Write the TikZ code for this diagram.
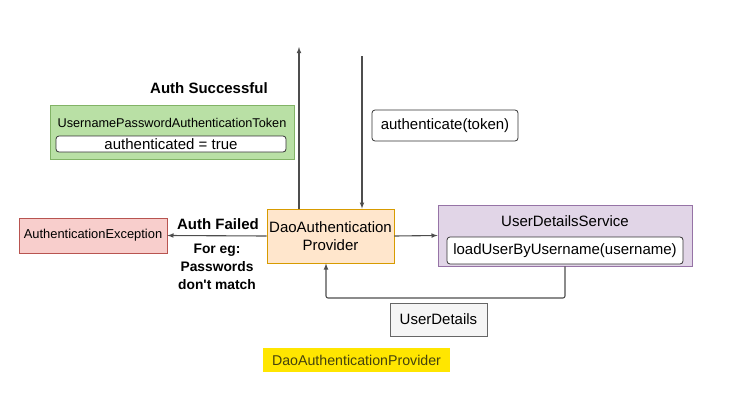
\documentclass[tikz,border=0pt]{standalone}
\usepackage{fontspec}
\setmainfont{Liberation Sans}[Ligatures=TeXOff]
\usepackage{xcolor}
\usepackage{tikz}
\usetikzlibrary{shapes,positioning}
\definecolor{tokenfill}{HTML}{B9E0A5}
\definecolor{tokenline}{HTML}{82B366}
\definecolor{daofill}{HTML}{FFE6CC}
\definecolor{daoline}{HTML}{D79B00}
\definecolor{excfill}{HTML}{F8CECC}
\definecolor{excline}{HTML}{B85450}
\definecolor{udsfill}{HTML}{E1D5E7}
\definecolor{udsline}{HTML}{9673A6}
\definecolor{udfill}{HTML}{F5F5F5}
\definecolor{udline}{HTML}{666666}
\definecolor{wire}{HTML}{4D4D4D}
\definecolor{marker}{HTML}{FFE600}
\definecolor{markertext}{HTML}{44420E}
\tikzstyle{block}=  [draw,
rectangle,
inner sep=0,
line width=0.8pt,
align=center,
]
\tikzstyle{callbox}=[draw=black!80,
fill=white,
rounded corners=3pt,
rectangle,
inner sep=0,
line width=0.8pt,
]
\tikzstyle{flow}=   [draw=wire,
line width=1.1pt,
-latex,
]
\tikzstyle{tag}=    [font=\bfseries\fontsize{15}{18}\selectfont,
align=center,
inner sep=0,
]

\begin{document}
\begin{tikzpicture}[x=1pt, y=-1pt, font=\fontsize{15}{18}\selectfont]
        \useasboundingbox (0,0) rectangle (750,407);
        \node[block, fill=daofill, draw=daoline, minimum width=127, minimum height=54] (dao_provider) at (330.5,236) {DaoAuthentication\\Provider};
        \node[block, fill=tokenfill, draw=tokenline, minimum width=244, minimum height=54] (token_box) at (172,132) {};
        \node[inner sep=0, font=\fontsize{12.7}{15}\selectfont] (token_name) at (172,123) {UsernamePasswordAuthenticationToken};
        \node[callbox, minimum width=230, minimum height=16] (token_flag) at (171,144) {authenticated = true};
        \node[callbox, minimum width=146, minimum height=31] (auth_call) at (445,125.5) {authenticate(token)};
        \node[block, fill=excfill, draw=excline, minimum width=148, minimum height=35, font=\fontsize{12.9}{15}\selectfont] (auth_exception) at (93,235.5) {AuthenticationException};
        \node[block, fill=udsfill, draw=udsline, minimum width=254, minimum height=61] (uds_box) at (565,235.5) {};
        \node[inner sep=0] (uds_name) at (565,221) {UserDetailsService};
        \node[callbox, minimum width=236, minimum height=27] (load_user) at (565,250.5) {loadUserByUsername(username)};
        \node[block, fill=udfill, draw=udline, minimum width=97, minimum height=33] (user_details) at (438.5,319.5) {UserDetails};
        \node[rectangle, fill=marker, minimum width=187, minimum height=24, inner sep=0, text=markertext, font=\fontsize{14.2}{17}\selectfont] (title) at (356.5,360) {DaoAuthenticationProvider};
        \node[tag] (auth_ok) at (209,88) {Auth Successful};
        \node[tag] (auth_failed) at (218,224) {Auth Failed};
        \node[tag, font=\bfseries\fontsize{13.8}{18}\selectfont] (fail_note) at (217,267) {For eg:\\Passwords\\don't match};
        \coordinate (up_end) at (299,47);
        \coordinate (down_start) at (362,56);
        \coordinate (back_turn) at (326,298);

        \draw[flow] (up_end |- dao_provider.north) -- (up_end);
        \draw[flow] (down_start) -- (down_start |- dao_provider.north);
        \draw[flow] (dao_provider.west) -- (auth_exception.east);
        \draw[flow] (dao_provider.east) -- (uds_box.west);
        \draw[flow, rounded corners=2pt] (uds_box.south) |- (back_turn) -- (back_turn |- dao_provider.south);
    \end{tikzpicture}
\end{document}
